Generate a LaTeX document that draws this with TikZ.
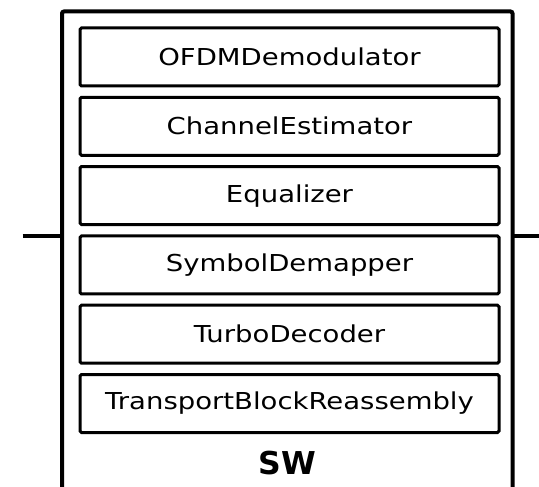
\documentclass[tikz,border=0pt]{standalone}
\usepackage{fontspec}
\setmainfont{DejaVu Sans}
\newfontfamily\stagefont[FakeStretch=1.18]{DejaVu Sans}
\tikzset{
  frame/.style={line width=4pt, rounded corners=2pt},
  stage/.style={draw, line width=3pt, rounded corners=1.5pt, minimum width=419pt, minimum height=58pt,
    inner sep=0pt, anchor=north west, font=\stagefont\fontsize{23.3}{27}\selectfont},
  port/.style={line width=4pt},
}
\begin{document}
\begin{tikzpicture}[x=1pt, y=-1pt]
\useasboundingbox (0,0) rectangle (539,487);
\clip (0,0) rectangle (539,487);
% enclosing software block, continues below the page
\draw[frame] (62,520) -- (62,11.5) -- (512.5,11.5) -- (512.5,520);
\coordinate (inL) at (62,235.5);
\coordinate (inR) at (22.7,235.5);
\coordinate (outL) at (512.5,235.5);
\coordinate (outR) at (539,235.5);
\draw[port] (inR) -- (inL);
\draw[port] (outL) -- (outR);
% processing stages
\node[stage] (s1) at (78.5,26.5) {OFDMDemodulator};
\node[stage] (s2) at (78.5,95.8) {ChannelEstimator};
\node[stage] (s3) at (78.5,165.1) {Equalizer};
\node[stage] (s4) at (78.5,234.4) {SymbolDemapper};
\node[stage] (s5) at (78.5,303.7) {TurboDecoder};
\node[stage] (s6) at (78.5,373) {TransportBlockReassembly};
\node[font=\fontsize{31.5}{34}\selectfont\bfseries] (sw) at (287.2,463.5) {SW};
\end{tikzpicture}
\end{document}
